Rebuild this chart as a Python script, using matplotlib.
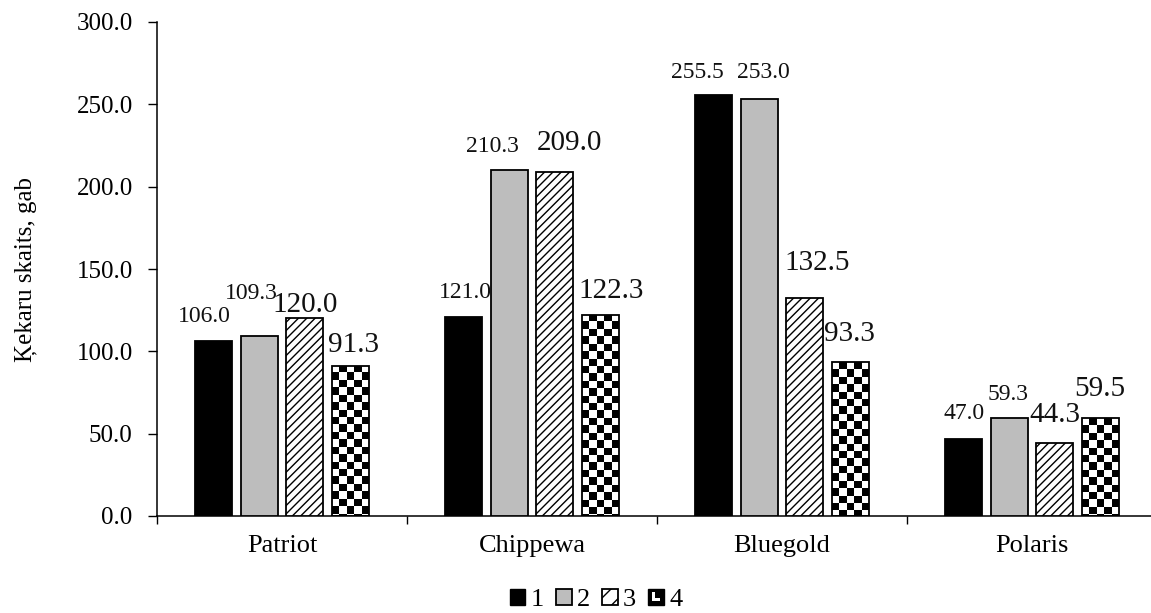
import numpy as np
import matplotlib
matplotlib.use("Agg")
import matplotlib.pyplot as plt
from matplotlib.patches import Rectangle, Patch
from matplotlib.legend_handler import HandlerBase

# ---------------------------------------------------------------------------
# Data
# ---------------------------------------------------------------------------
CULTIVARS = ["Patriot", "Chippewa", "Bluegold", "Polaris"]
SERIES_NAMES = ["1", "2", "3", "4"]
SERIES_1 = [106.0, 121.0, 255.5, 47.0]
SERIES_2 = [109.3, 210.3, 253.0, 59.3]
SERIES_3 = [120.0, 209.0, 132.5, 44.3]
SERIES_4 = [91.3, 122.3, 93.3, 59.5]
Y_TICKS = [0, 50, 100, 150, 200, 250, 300]
Y_LABEL = "Ķekaru skaits, gab"

# value label placement, pixels relative to the top centre of each bar
LABEL_OFFSETS = [
    [(-9, 25), (2, 24), (-16, 23), (0, 25)],
    [(-8, 43), (-17, 23), (4, 27), (-1, 24)],
    [(0, 13), (15, 29), (12, 35), (0, 28)],
    [(3, 21), (11, 24), (-1, 28), (0, 29)],
]
LABEL_SIZES = [17, 17, 21, 21]

plt.rcParams["font.family"] = "Liberation Serif"
plt.rcParams["hatch.linewidth"] = 1.0

W, H = 1151, 613
fig = plt.figure(figsize=(W / 100, H / 100), dpi=100)
ax = fig.add_axes([157 / W, 1 - 516 / H, 1000 / W, 494 / H])
ax.set_xlim(-0.5, 3.5)
ax.set_ylim(0, 300)

x = np.arange(len(CULTIVARS))
step = 0.182
width = 0.148
edge_lw = 1.3

styles = [
    dict(facecolor="black", edgecolor="black"),
    dict(facecolor="#bdbdbd", edgecolor="black"),
    dict(facecolor="white", edgecolor="black", hatch="////"),
    dict(facecolor="none", edgecolor="black"),
]

all_series = [SERIES_1, SERIES_2, SERIES_3, SERIES_4]
containers = []
for i, vals in enumerate(all_series):
    pos = x + (i - 1.5) * step
    bars = ax.bar(pos, vals, width, linewidth=edge_lw, zorder=3, **styles[i])
    containers.append(bars)

# checkered fill for series 4, drawn as a clipped image behind the outline
p0, p1 = ax.transData.transform([(0, 0), (1, 1)])
px_x, px_y = p1 - p0
n_cols = 5
for bar in containers[3]:
    bx, bw, bh = bar.get_x(), bar.get_width(), bar.get_height()
    cell_px = bw * px_x / n_cols
    cell_y = cell_px / px_y
    n_rows = int(np.ceil(bh / cell_y))
    rows, cols = np.indices((n_rows, n_cols))
    board = 1 - (rows + cols) % 2
    img = ax.imshow(board, cmap="gray", vmin=0, vmax=1, interpolation="nearest",
                    extent=(bx, bx + bw, bh - n_rows * cell_y, bh),
                    aspect="auto", zorder=2)
    img.set_clip_path(bar)

ax.set_xlim(-0.5, 3.5)
ax.set_ylim(0, 300)

# value labels
for i, (vals, bars) in enumerate(zip(all_series, containers)):
    for j, (v, bar) in enumerate(zip(vals, bars)):
        dx, dy = LABEL_OFFSETS[i][j]
        ax.annotate(f"{v:.1f}", (bar.get_x() + bar.get_width() / 2, v),
                    xytext=(dx, dy), textcoords="offset pixels",
                    ha="center", va="center", fontsize=LABEL_SIZES[i],
                    color="#111111")

# axes styling
for side in ("top", "right"):
    ax.spines[side].set_visible(False)
for side in ("left", "bottom"):
    ax.spines[side].set_linewidth(1.1)

ax.set_yticks(Y_TICKS)
ax.set_yticklabels([f"{t:.1f}" for t in Y_TICKS])
ax.tick_params(axis="y", direction="out", length=6.5, width=1.0, pad=11,
               labelsize=18)
ax.set_xticks(x)
ax.set_xticklabels(CULTIVARS)
ax.set_xticks(np.arange(-0.5, 4, 1), minor=True)
ax.tick_params(axis="x", which="major", length=0, pad=14, labelsize=19)
ax.tick_params(axis="x", which="minor", direction="out", length=6, width=1.0)

ax.set_ylabel(Y_LABEL, fontsize=18)
ax.yaxis.set_label_coords(-0.12, 0.5)


class CheckerHandler(HandlerBase):
    def create_artists(self, legend, orig_handle, xdescent, ydescent,
                       width, height, fontsize, trans):
        x0, y0 = -xdescent, -ydescent
        base = Rectangle((x0, y0), width, height, facecolor="black",
                         edgecolor="black", lw=1, transform=trans)
        v = Rectangle((x0 + width * 0.25, y0 + height * 0.25), width * 0.18,
                      height * 0.55, facecolor="white", lw=0, transform=trans)
        h = Rectangle((x0 + width * 0.25, y0 + height * 0.25), width * 0.5,
                      height * 0.18, facecolor="white", lw=0, transform=trans)
        return [base, v, h]


handles = [
    Patch(facecolor="black", edgecolor="black", lw=1),
    Patch(facecolor="#bdbdbd", edgecolor="black", lw=1.3),
    Patch(facecolor="white", edgecolor="black", lw=1.3, hatch="//"),
    Patch(facecolor="black", edgecolor="black"),
]
fig.legend(handles, SERIES_NAMES, loc="center", bbox_to_anchor=(596 / W, 1 - 600 / H),
           ncol=4, frameon=False, fontsize=19, handlelength=0.6,
           handleheight=0.6, handletextpad=0.2, columnspacing=0.45,
           handler_map={handles[3]: CheckerHandler()})

fig.savefig("out.png", dpi=100)
